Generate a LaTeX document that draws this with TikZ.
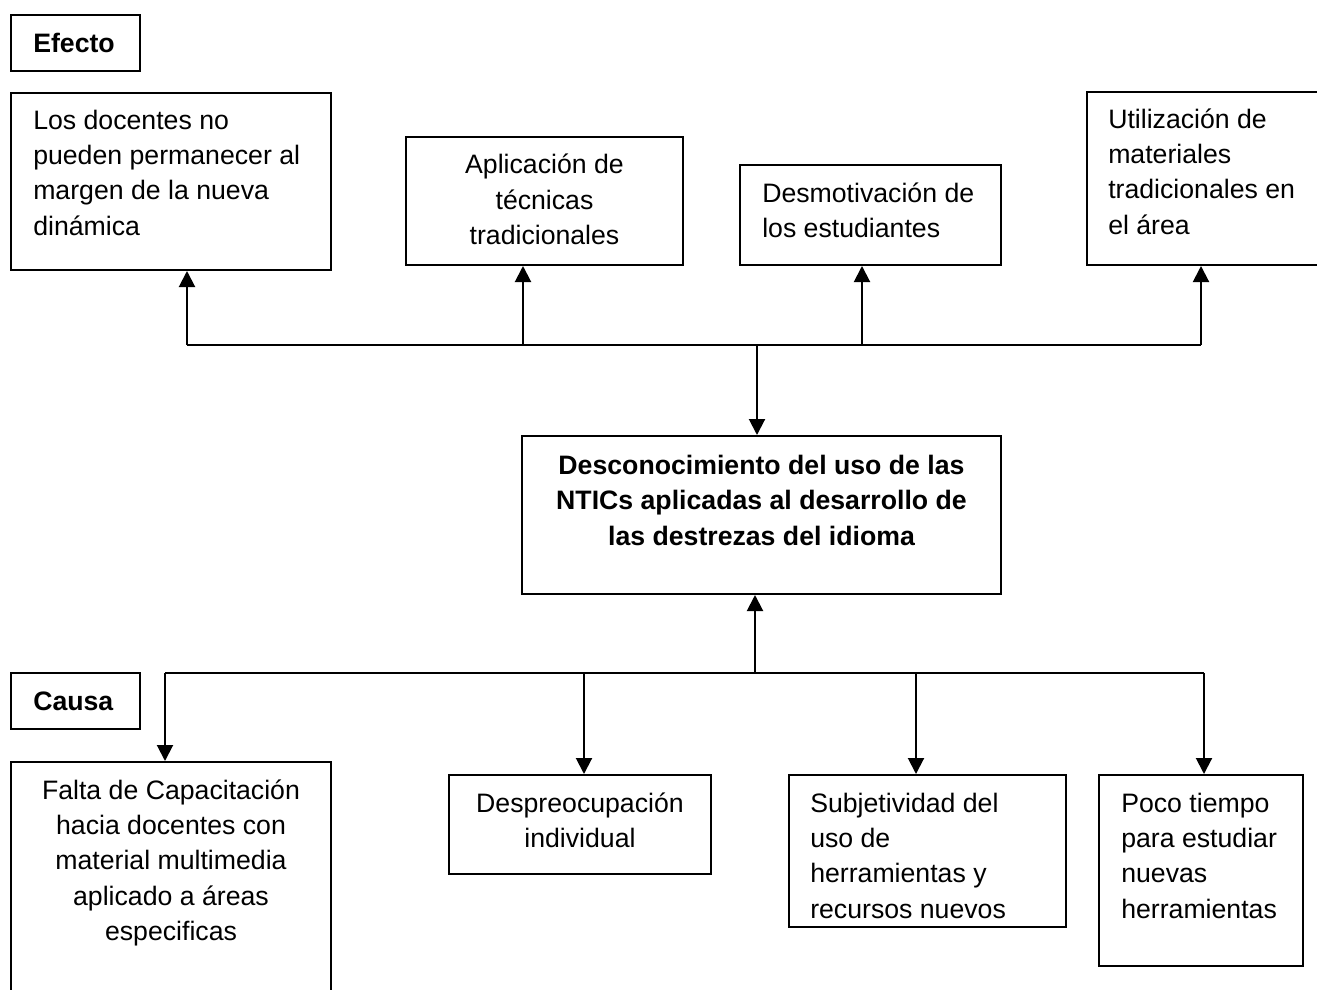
\documentclass[tikz,border=0pt]{standalone}
\usepackage{fontspec}
\setmainfont{Liberation Sans}
\usetikzlibrary{arrows.meta,fit}
\begin{document}
\begin{tikzpicture}[x=0.75pt,y=-0.75pt,
  box/.style={draw,line width=1.5pt,inner sep=0pt},
  txt/.style={inner sep=0pt,font=\fontsize{20}{26.6}\selectfont},
  btxt/.style={txt,font=\fontsize{20}{26.8}\selectfont\bfseries},
  arr/.style={line width=1.5pt,-{Triangle[width=12pt,length=12pt]}},
  bus/.style={line width=1.5pt}]
\useasboundingbox (0,0) rectangle (1317,989);
% labels
\node[box,fit={(11,15)(140,71)}] (efecto) {};
\node[btxt,anchor=west] (efectot) at (33,43) {Efecto};
\node[box,fit={(11,673)(140,729)}] (causa) {};
\node[btxt,anchor=west] (causat) at (33,701) {Causa};
% effect boxes
\node[box,fit={(11,93)(331,270)}] (b1) {};
\node[txt,align=left,anchor=base west] (b1t) at (33,235.4) {Los docentes no\\pueden permanecer al\\margen de la nueva\\dinámica};
\node[box,fit={(406,137)(683,265)}] (b2) {};
\node[txt,align=center,anchor=base] (b2t) at (544.5,244.9) {Aplicación de\\técnicas\\tradicionales};
\node[box,fit={(740,165)(1001,265)}] (b3) {};
\node[txt,align=left,anchor=base west] (b3t) at (762,237.5) {Desmotivación de\\los estudiantes};
\node[box,fit={(1087,92)(1330,265)}] (b4) {};
\node[txt,align=left,anchor=base west] (b4t) at (1108,234.4) {Utilización de\\materiales\\tradicionales en\\el área};
% central problem
\node[box,fit={(522,436)(1001,594)}] (c) {};
\node[btxt,align=center,anchor=base] (ct) at (761.5,545.5) {Desconocimiento del uso de las\\NTICs aplicadas al desarrollo de\\las destrezas del idioma};
% cause boxes
\node[box,fit={(11,762)(331,1000)}] (k1) {};
\node[txt,align=center,anchor=base] (k1t) at (171,940.9) {Falta de Capacitación\\hacia docentes con\\material multimedia\\aplicado a áreas\\especificas};
\node[box,fit={(449,775)(711,874)}] (k2) {};
\node[txt,align=center,anchor=base] (k2t) at (580,847.5) {Despreocupación\\individual};
\node[box,fit={(789,775)(1066,927)}] (k3) {};
\node[txt,align=left,anchor=base west] (k3t) at (810,918.4) {Subjetividad del\\uso de\\herramientas y\\recursos nuevos};
\node[box,fit={(1099,775)(1303,966)}] (k4) {};
\node[txt,align=left,anchor=base west] (k4t) at (1121,918.4) {Poco tiempo\\para estudiar\\nuevas\\herramientas};
% top bus
\coordinate (t1) at (187,345);
\coordinate (t2) at (523,345);
\coordinate (t3) at (862,345);
\coordinate (t4) at (1201,345);
\coordinate (tc) at (757,345);
\draw[bus] (t1) -- (t4);
\draw[arr] (t1) -- (t1 |- b1.south);
\draw[arr] (t2) -- (t2 |- b2.south);
\draw[arr] (t3) -- (t3 |- b3.south);
\draw[arr] (t4) -- (t4 |- b4.south);
\draw[arr] (tc) -- (tc |- c.north);
% bottom bus
\coordinate (u1) at (165,673);
\coordinate (u2) at (584,673);
\coordinate (u3) at (916,673);
\coordinate (u4) at (1204,673);
\coordinate (uc) at (755,673);
\draw[bus] (u1) -- (u4);
\draw[arr] (uc) -- (uc |- c.south);
\draw[arr] (u1) -- (u1 |- k1.north);
\draw[arr] (u2) -- (u2 |- k2.north);
\draw[arr] (u3) -- (u3 |- k3.north);
\draw[arr] (u4) -- (u4 |- k4.north);
\end{tikzpicture}
\end{document}
